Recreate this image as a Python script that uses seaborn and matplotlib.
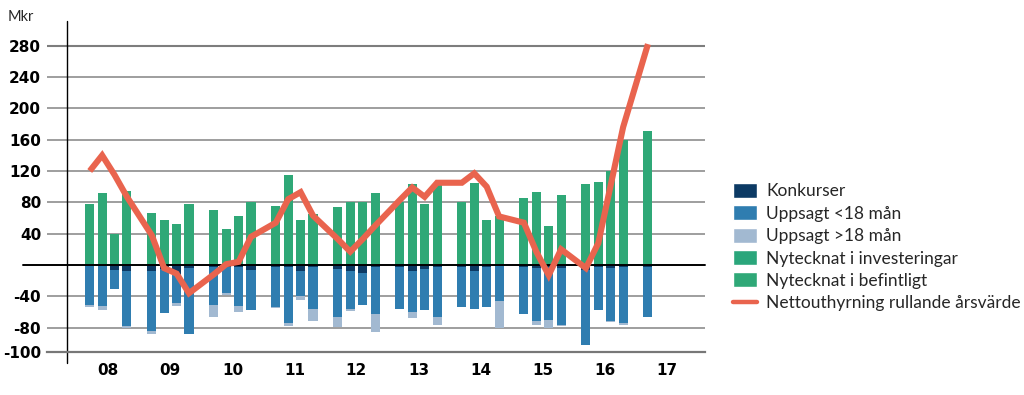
import matplotlib
matplotlib.use("Agg")
import matplotlib.pyplot as plt
import numpy as np
import pandas as pd
import seaborn as sns
from matplotlib.patches import Patch
from matplotlib.lines import Line2D

# ---------------- data (Mkr, per quarter) ----------------
quarters = ["08Q1", "08Q2", "08Q3", "08Q4",
            "09Q1", "09Q2", "09Q3", "09Q4",
            "10Q1", "10Q2", "10Q3", "10Q4",
            "11Q1", "11Q2", "11Q3", "11Q4",
            "12Q1", "12Q2", "12Q3", "12Q4",
            "13Q1", "13Q2", "13Q3", "13Q4",
            "14Q1", "14Q2", "14Q3", "14Q4",
            "15Q1", "15Q2", "15Q3", "15Q4",
            "16Q1", "16Q2", "16Q3", "16Q4",
            "17Q1"]

konkurser = [-1, -1, -6, -8,
             -8, -5, -12, -4,
             -3, -2, -2, -7,
             -3, -3, -8, -3,
             -5, -8, -10, -3,
             -3, -8, -5, -3,
             -2, -8, -2, -1,
             -3, -4, -2, -4,
             -7, -2, -4, -3,
             -2]

uppsagt_under18 = [-50, -51, -25, -70,
                   -76, -56, -37, -84,
                   -48, -34, -50, -50,
                   -50, -71, -32, -53,
                   -61, -48, -41, -60,
                   -53, -52, -52, -64,
                   -51, -48, -52, -45,
                   -59, -67, -68, -72,
                   -95, -56, -68, -71,
                   -65]

uppsagt_over18 = [-3, -5, 0, -3,
                  -4, 0, -3, 0,
                  -16, -2, -8, 0,
                  -2, -4, -5, -15,
                  -13, -3, 0, -23,
                  0, -8, 0, -9,
                  -1, 0, 0, -34,
                  0, -5, -10, -2,
                  0, 0, -1, -2,
                  0]

# the two "Nytecknat" series share (visually) the same green; split not readable
nytecknat_investeringar = [0, 0, 0, 0,
                           0, 0, 0, 0,
                           0, 0, 0, 0,
                           0, 0, 0, 0,
                           0, 0, 0, 0,
                           0, 0, 0, 0,
                           0, 0, 0, 0,
                           0, 0, 0, 0,
                           0, 0, 0, 0,
                           0]

nytecknat_befintligt = [78, 92, 40, 94,
                        67, 57, 52, 78,
                        70, 46, 63, 80,
                        75, 115, 58, 65,
                        74, 80, 80, 92,
                        80, 103, 78, 103,
                        80, 105, 57, 63,
                        85, 93, 50, 89,
                        103, 106, 120, 160,
                        171]

nettouthyrning = [120, 140, 115, 87,
                  38, -4, -11, -36,
                  -12, 1, 4, 36,
                  54, 84, 93, 63,
                  33, 17, 33, 50,
                  83, 99, 87, 105,
                  105, 117, 100, 62,
                  54, 17, -13, 20,
                  -4, 28, 102, 176,
                  282]

year_labels = ["08", "09", "10", "11", "12", "13", "14", "15", "16", "17"]
grid_values = [-80, -40, 40, 80, 120, 160, 200, 240, 280]
y_tick_labels = ["-100", "-80", "-40", "40", "80", "120", "160", "200", "240", "280"]

legend_labels = ["Konkurser", "Uppsagt <18 mån", "Uppsagt >18 mån",
                 "Nytecknat i investeringar", "Nytecknat i befintligt",
                 "Nettouthyrning rullande årsvärde"]

# ---------------- styling ----------------
C_KONK = "#0c3a64"
C_U18 = "#2f7db0"
C_O18 = "#a2b9d1"
C_INV = "#2aa67b"
C_BEF = "#2fa877"
C_LINE = "#e9644e"
C_GRID = "#8e8e8e"

sns.set_theme(style="white")
plt.rcParams["font.family"] = ["Lato", "DejaVu Sans"]

df = pd.DataFrame({
    "quarter": quarters,
    "konk": konkurser,
    "u18": uppsagt_under18,
    "o18": uppsagt_over18,
    "inv": nytecknat_investeringar,
    "bef": nytecknat_befintligt,
    "netto": nettouthyrning,
})
df["pos"] = [(int(q[:2]) - 8) * 5 + int(q[3]) - 1 for q in df["quarter"]]
df["neg1"] = df["konk"]
df["neg2"] = df["konk"] + df["u18"]
df["neg3"] = df["neg2"] + df["o18"]
df["postot"] = df["inv"] + df["bef"]

W, H = 1024, 395
fig = plt.figure(figsize=(W / 100, H / 100), dpi=100)
ax_l, ax_r, ax_t, ax_b = 46.7, 705, 21, 351.7
ax = fig.add_axes([ax_l / W, (H - ax_b) / H, (ax_r - ax_l) / W, (ax_b - ax_t) / H])

bar_w = 0.73
common = dict(x="pos", native_scale=True, orient="x", width=bar_w,
              saturation=1, errorbar=None, ax=ax, linewidth=0, zorder=2)
sns.barplot(data=df, y="neg3", color=C_O18, **common)
sns.barplot(data=df, y="neg2", color=C_U18, **common)
sns.barplot(data=df, y="neg1", color=C_KONK, **common)
sns.barplot(data=df, y="postot", color=C_BEF, **common)
sns.barplot(data=df, y="inv", color=C_INV, **common)

sns.lineplot(data=df, x="pos", y="netto", color=C_LINE, lw=4.4, ax=ax,
             zorder=6, sort=False, solid_joinstyle="miter", solid_capstyle="butt")

y_lo, y_hi = -110.7, 311.5
ax.set_xlim(-3.47, 49.6)
ax.set_ylim(y_lo, y_hi)

for s in ["top", "right", "left"]:
    ax.spines[s].set_visible(False)
ax.spines["bottom"].set_color("#777777")
ax.spines["bottom"].set_linewidth(1.6)

for v in grid_values:
    ax.axhline(v, color=("#7d7d7d" if v == 280 else C_GRID),
               lw=(1.5 if v == 280 else 1.2), zorder=0)
x0 = (23 - ax_l) / (ax_r - ax_l)
ax.axhline(0, xmin=x0, xmax=1, color="black", lw=1.4, zorder=4, clip_on=False)

# left vertical axis line
ax.axvline(-1.85, ymin=-(363 - ax_b) / (ax_b - ax_t), ymax=1, color="black",
           lw=1.0, zorder=1, clip_on=False)

# bottom line carries the "-100" label in the original
ax.set_yticks([y_lo] + grid_values)
ax.set_yticklabels(y_tick_labels, fontsize=11, fontweight="bold",
                   family=["DejaVu Sans"])
ax.set_xticks([1.5 + 5 * i for i in range(len(year_labels))])
ax.set_xticklabels(year_labels, fontsize=11, fontweight="bold",
                   family=["DejaVu Sans"])
ax.tick_params(axis="y", length=0, pad=4, colors="black")
ax.tick_params(axis="x", length=0, pad=8, colors="black")
ax.set_xlabel("")
ax.set_ylabel("")
ax.grid(False)
legend_obj = ax.get_legend()
if legend_obj is not None:
    legend_obj.remove()

fig.text(8 / W, 1 - 17 / H, "Mkr", fontsize=10.5, va="center", ha="left")

handles = [Patch(facecolor=C_KONK), Patch(facecolor=C_U18), Patch(facecolor=C_O18),
           Patch(facecolor=C_INV), Patch(facecolor=C_BEF),
           Line2D([0], [0], color=C_LINE, lw=3.2)]
fig.legend(handles, legend_labels, loc="upper left",
           bbox_to_anchor=(733 / W, 1 - 183 / H), frameon=False, fontsize=12.5,
           handlelength=1.4, handleheight=0.95, handletextpad=0.5,
           labelspacing=0.34, borderpad=0, borderaxespad=0)

fig.savefig("out.png", dpi=100)
